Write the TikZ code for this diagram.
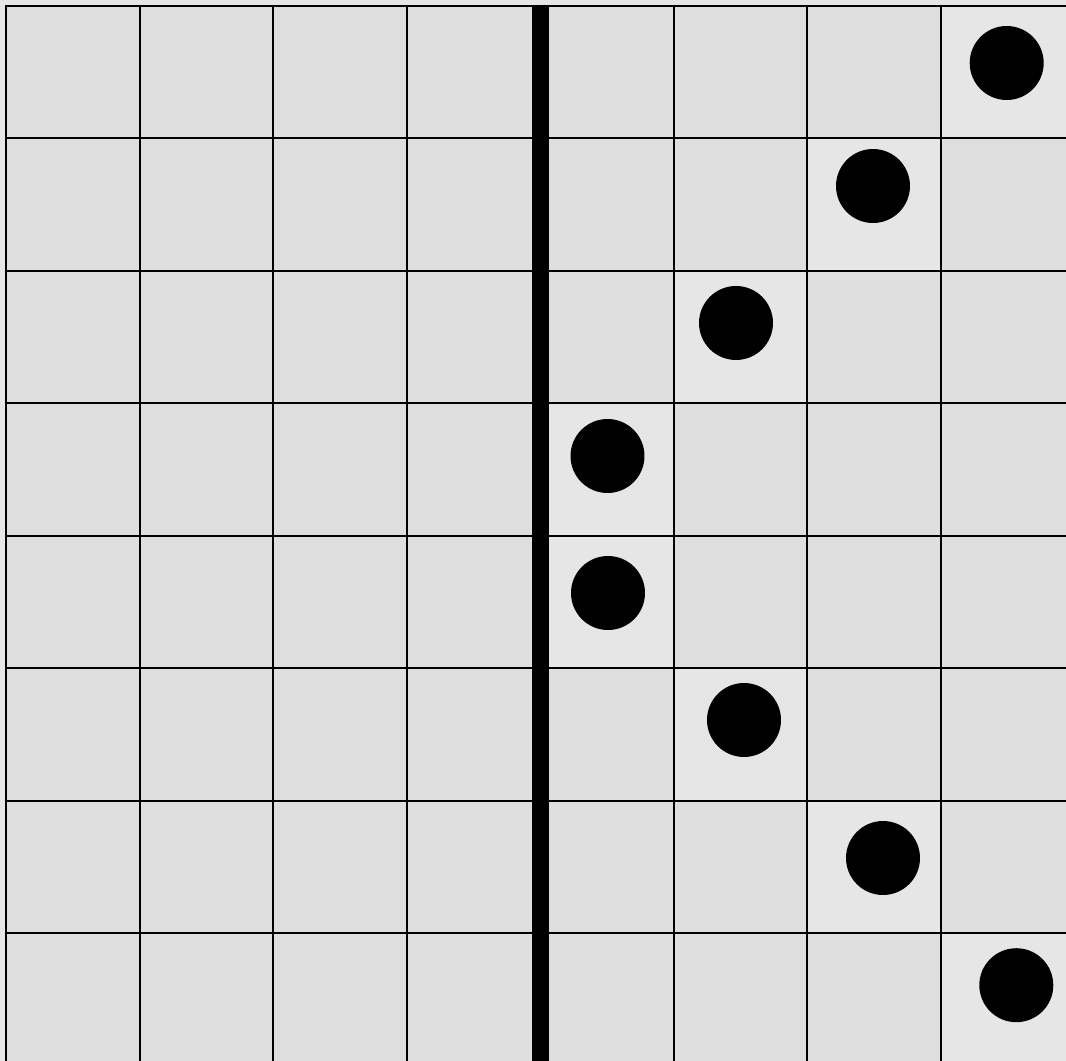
\documentclass[tikz,border=0pt]{standalone}
\usetikzlibrary{positioning}
\definecolor{cellgray}{HTML}{DEDEDE}
\definecolor{lightcell}{HTML}{E6E6E6}

\begin{document}
\begin{tikzpicture}[x=0.02cm,y=-0.02cm,
    gridline/.style={black,line width=0.04cm},
    wall/.style={black,line width=0.34cm},
    queen/.style={circle,fill=black,inner sep=0pt,minimum size=1.48cm}]
  \useasboundingbox (0,0) rectangle (1066,1061);
  \clip (0,0) rectangle (1066,1061);
  \fill[lightcell] (0,0) rectangle (1066,1061);
  \fill[cellgray] (6,6) rectangle (1080,1080);
  % lighter cells under the dots
  \foreach \c/\r in {7/0,6/1,5/2,4/3,4/4,5/5,6/6,7/7}
    \fill[lightcell] ({6+133.57*\c},{6+132.43*\r}) rectangle ++(133.57,132.43);
  % board lines
  \foreach \i in {0,...,7} {
    \draw[gridline] ({6+133.57*\i},5) -- ({6+133.57*\i},1080);
    \draw[gridline] (5,{6+132.43*\i}) -- (1080,{6+132.43*\i});
  }
  \draw[wall] (540.5,5) -- (540.5,1080);
  % dots
  \node[queen] (q1) at (1006.7,63) {};
  \node[queen] (q2) at (873,186) {};
  \node[queen] (q3) at (736,323) {};
  \node[queen] (q4) at (607.5,456) {};
  \node[queen] (q5) at (608,593) {};
  \node[queen] (q6) at (744,720) {};
  \node[queen] (q7) at (883,858) {};
  \node[queen] (q8) at (1016.3,985.2) {};
\end{tikzpicture}
\end{document}
